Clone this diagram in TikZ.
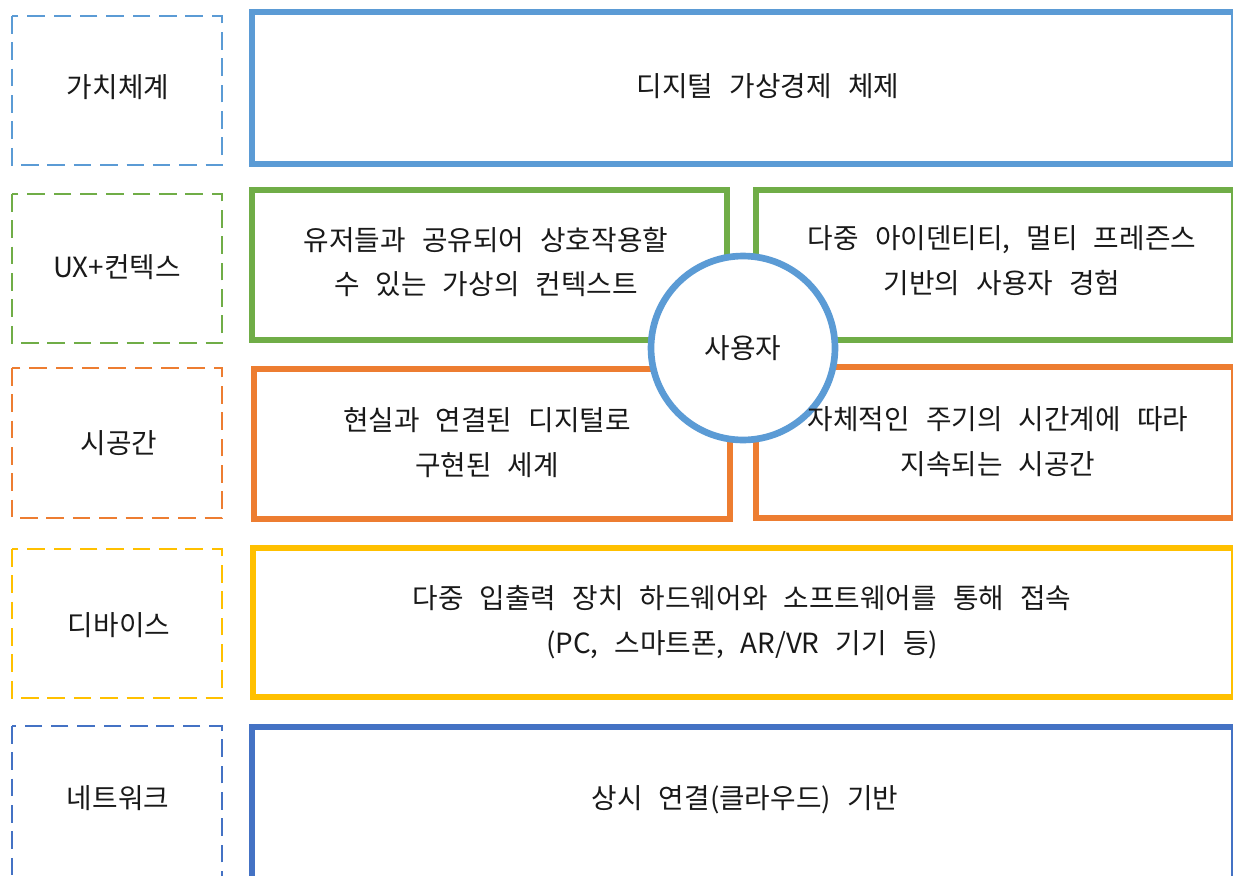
\documentclass[tikz,border=0pt]{standalone}
\usepackage{fontspec}
\setmainfont{Noto Sans CJK KR}[WordSpace=2.6]

\definecolor{skyblue}{HTML}{5B9BD5}
\definecolor{leafgreen}{HTML}{70AD47}
\definecolor{rustorange}{HTML}{ED7D31}
\definecolor{goldyellow}{HTML}{FFC000}
\definecolor{deepblue}{HTML}{4472C4}

\tikzset{
  tagbox/.style={dash pattern=on 10pt off 5pt, line width=1.5pt},
  panelbox/.style={line width=3.8pt},
  txt/.style={align=center, text=black!90, font=\fontsize{15.8}{25.5}\selectfont}
}

\begin{document}
\begin{tikzpicture}[x=0.02cm, y=-0.02cm]
\clip (0,0) rectangle (1233,875);
\fill[white] (0,0) rectangle (1233,875);
% left tags
\draw[tagbox,skyblue] (12,16) rectangle (222,165);
\draw[tagbox,leafgreen] (12,194) rectangle (222,343);
\draw[tagbox,rustorange] (12,368) rectangle (222,518);
\draw[tagbox,goldyellow] (12,549) rectangle (222,698);
\draw[tagbox,deepblue] (12,726) rectangle (222,900);
\node[txt] (tag1) at (118,87) {가치체계};
\node[txt] (tag2) at (117,267) {UX+컨텍스};
\node[txt] (tag3) at (119,443) {시공간};
\node[txt] (tag4) at (119,625) {디바이스};
\node[txt] (tag5) at (118,798) {네트워크};
% panels
\draw[panelbox,skyblue] (252,12) rectangle (1234,164);
\draw[panelbox,leafgreen] (252,190) rectangle (727,340);
\draw[panelbox,leafgreen] (756,190) rectangle (1234,340);
\draw[panelbox,rustorange] (254,369) rectangle (730,519);
\draw[panelbox,rustorange] (756,367) rectangle (1234,518);
\draw[panelbox,goldyellow] (253,548) rectangle (1234,697);
\draw[panelbox,deepblue] (252,727) rectangle (1234,900);
% user circle
\node[circle, draw=skyblue, fill=white, line width=3.8pt, minimum size=3.68cm, txt] (user) at (743,348) {사용자};
% panel texts
\node[txt] (value) at (768,86) {디지털 가상경제 체제};
\node[txt] (uxleft) at (486,262) {유저들과 공유되어 상호작용할\\수 있는 가상의 컨텍스트};
\node[txt] (uxright) at (1002,261) {다중 아이덴티티, 멀티 프레즌스\\기반의 사용자 경험};
\node[txt] (stleft) at (487,443) {현실과 연결된 디지털로\\구현된 세계};
\node[txt] (stright) at (998,442) {자체적인 주기의 시간계에 따라\\지속되는 시공간};
\node[txt] (device) at (742,622) {다중 입출력 장치 하드웨어와 소프트웨어를 통해 접속\\(PC, 스마트폰, AR/VR 기기 등)};
\node[txt] (network) at (745,800) {상시 연결(클라우드) 기반};
\end{tikzpicture}
\end{document}
